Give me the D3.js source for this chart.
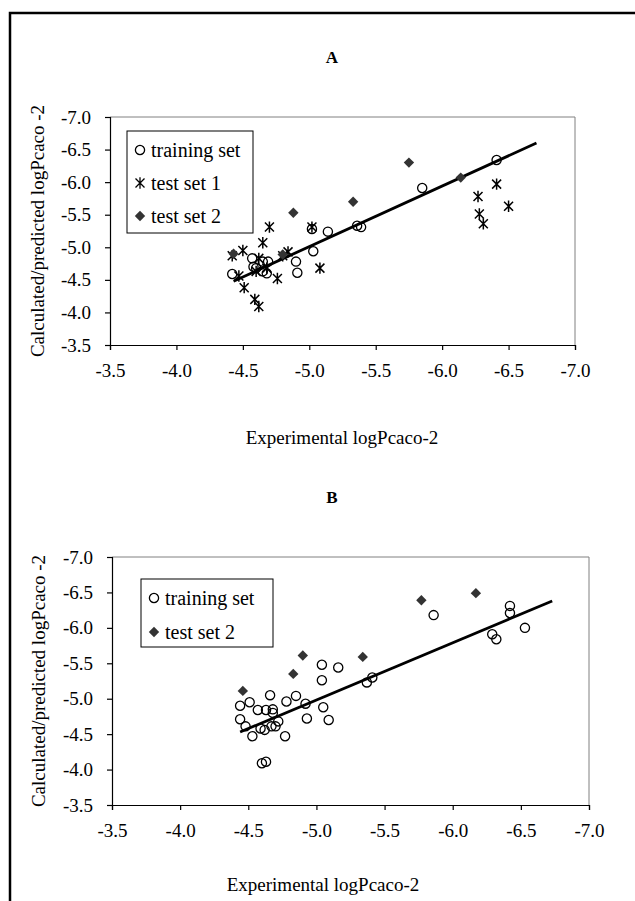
<!DOCTYPE html>
<html>
<head>
<meta charset="utf-8">
<script src="https://cdn.jsdelivr.net/npm/d3@7"></script>
<style>
  body { margin: 0; background: #fff; }
  svg { display: block; }
  text { font-family: "Liberation Serif", "Times New Roman", serif; fill: #000; }
</style>
</head>
<body>
<div id="chart"></div>
<script>
// tick values shared by both axes
var tickValues = [-3.5, -4.0, -4.5, -5.0, -5.5, -6.0, -6.5, -7.0];

// panel A : [experimental, calculated/predicted]
var trainingSetA = [
  [-4.42, -4.59], [-4.57, -4.83], [-4.65, -4.78], [-4.69, -4.78], [-4.58, -4.70],
  [-4.60, -4.68], [-4.65, -4.63], [-4.68, -4.60], [-4.90, -4.78], [-4.91, -4.61],
  [-5.03, -4.94], [-5.02, -5.28], [-5.14, -5.24], [-5.36, -5.33], [-5.39, -5.31],
  [-5.85, -5.91], [-6.41, -6.34]
];
var testSet1A = [
  [-4.42, -4.87], [-4.50, -4.95], [-4.47, -4.56], [-4.51, -4.38], [-4.59, -4.20],
  [-4.62, -4.09], [-4.62, -4.83], [-4.60, -4.63], [-4.68, -4.68], [-4.65, -5.07],
  [-4.70, -5.31], [-4.76, -4.52], [-4.80, -4.87], [-4.84, -4.93], [-5.02, -5.31],
  [-5.08, -4.68], [-6.27, -5.78], [-6.41, -5.97], [-6.50, -5.63], [-6.28, -5.51],
  [-6.31, -5.36]
];
var testSet2A = [
  [-4.43, -4.90], [-4.80, -4.89], [-4.88, -5.53], [-5.33, -5.70], [-5.75, -6.30],
  [-6.14, -6.07]
];
var fitLineA = [[-4.43, -4.48], [-6.71, -6.60]];

// panel B
var trainingSetB = [
  [-4.44, -4.90], [-4.51, -4.95], [-4.44, -4.71], [-4.48, -4.61], [-4.53, -4.47],
  [-4.57, -4.84], [-4.63, -4.84], [-4.68, -4.85], [-4.68, -4.80], [-4.66, -5.05],
  [-4.59, -4.58], [-4.62, -4.56], [-4.67, -4.61], [-4.70, -4.61], [-4.72, -4.68],
  [-4.77, -4.47], [-4.78, -4.96], [-4.85, -5.04], [-4.92, -4.93], [-4.93, -4.72],
  [-5.05, -4.88], [-5.09, -4.70], [-5.04, -5.48], [-5.16, -5.44], [-5.04, -5.26],
  [-5.37, -5.23], [-5.41, -5.30], [-5.86, -6.18], [-6.42, -6.31], [-6.42, -6.21],
  [-6.53, -6.00], [-6.29, -5.91], [-6.32, -5.84], [-4.60, -4.09], [-4.63, -4.11]
];
var testSet2B = [
  [-4.46, -5.11], [-4.83, -5.35], [-4.90, -5.61], [-5.34, -5.59], [-5.77, -6.39],
  [-6.17, -6.49]
];
var fitLineB = [[-4.44, -4.53], [-6.73, -6.38]];

var width = 635, height = 901;

var svg = d3.select("#chart").append("svg")
    .attr("width", width)
    .attr("height", height);

// outer frame (left and top edges only are visible)
svg.append("path")
    .attr("d", "M10," + height + "V13H" + width)
    .attr("fill", "none")
    .attr("stroke", "#000")
    .attr("stroke-width", 2.5);

function drawPanel(p) {

    var x = d3.scaleLinear().domain([-3.5, -7.0]).range([p.left, p.right]),
        y = d3.scaleLinear().domain([-3.5, -7.0]).range([p.bottom, p.top]);

    var g = svg.append("g");

    // grey top / right border of the plot area
    g.append("path")
        .attr("d", "M" + p.left + "," + p.top + "H" + p.right + "V" + p.bottom)
        .attr("fill", "none")
        .attr("stroke", "#808080")
        .attr("stroke-width", 1);

    var fmt = function(d) { return d3.format(".1f")(d).replace("−", "-"); };

    var xAxis = d3.axisBottom(x).tickValues(tickValues).tickFormat(fmt).tickSizeOuter(0).tickSize(5).tickPadding(14),
        yAxis = d3.axisLeft(y).tickValues(tickValues).tickFormat(fmt).tickSizeOuter(0).tickSize(5).tickPadding(14);

    g.append("g")
        .attr("transform", "translate(0," + p.bottom + ")")
        .call(xAxis);

    g.append("g")
        .attr("transform", "translate(" + p.left + ",0)")
        .call(yAxis);

    g.selectAll(".domain, .tick line").attr("stroke", "#000").attr("stroke-width", 1.2);
    g.selectAll(".tick text")
        .style("font-family", "'Liberation Serif', serif")
        .style("font-size", "19px");

    // titles
    g.append("text")
        .attr("x", p.titleX).attr("y", p.titleY)
        .attr("text-anchor", "middle")
        .style("font-size", "17px").style("font-weight", "bold")
        .text(p.title);

    g.append("text")
        .attr("x", p.xLabelX).attr("y", p.xLabelY)
        .attr("text-anchor", "middle")
        .style("font-size", "19px")
        .text("Experimental logPcaco-2");

    g.append("text")
        .attr("transform", "translate(" + p.yLabelX + "," + ((p.top + p.bottom) / 2) + ") rotate(-90)")
        .attr("text-anchor", "middle")
        .style("font-size", "19px")
        .text("Calculated/predicted logPcaco -2");

    // regression line
    g.append("line")
        .attr("x1", x(p.fit[0][0])).attr("y1", y(p.fit[0][1]))
        .attr("x2", x(p.fit[1][0])).attr("y2", y(p.fit[1][1]))
        .attr("stroke", "#000")
        .attr("stroke-width", 2.8);

    // markers
    p.series.forEach(function(s) {
        g.append("g").selectAll("path")
            .data(s.data)
            .enter().append("path")
            .attr("transform", function(d) { return "translate(" + x(d[0]) + "," + y(d[1]) + ")"; })
            .attr("d", marker(s.shape))
            .attr("fill", s.shape == "diamond" ? "#333" : "none")
            .attr("stroke", s.shape == "diamond" ? "none" : "#000")
            .attr("stroke-width", s.shape == "star" ? 1.5 : 1.3);
    });

    // legend
    var lg = g.append("g");
    lg.append("rect")
        .attr("x", p.legend.x).attr("y", p.legend.y)
        .attr("width", p.legend.w).attr("height", p.legend.h)
        .attr("fill", "#fff")
        .attr("stroke", "#000")
        .attr("stroke-width", 1);

    p.series.forEach(function(s, i) {
        var cy = p.legend.y + p.legend.first + i * p.legend.step;
        lg.append("path")
            .attr("transform", "translate(" + (p.legend.x + 13) + "," + cy + ")")
            .attr("d", marker(s.shape))
            .attr("fill", s.shape == "diamond" ? "#333" : "none")
            .attr("stroke", s.shape == "diamond" ? "none" : "#000")
            .attr("stroke-width", 1.3);
        lg.append("text")
            .attr("x", p.legend.x + 24).attr("y", cy)
            .attr("dy", "0.33em")
            .style("font-size", "20px")
            .text(s.name);
    });
}

function marker(shape) {
    if (shape == "circle") {
        var r = 4.6;
        return "M" + r + ",0A" + r + "," + r + " 0 1,1 " + (-r) + ",0A" + r + "," + r + " 0 1,1 " + r + ",0Z";
    }
    if (shape == "diamond") {
        var h = 5.2;
        return "M0," + (-h) + "L" + h + ",0L0," + h + "L" + (-h) + ",0Z";
    }
    // star: an X with a vertical bar
    var a = 4.5;
    return "M" + (-a) + "," + (-a) + "L" + a + "," + a +
           "M" + (-a) + "," + a + "L" + a + "," + (-a) +
           "M0," + (-a - 1.2) + "V" + (a + 1.2);
}

drawPanel({
    title: "A", titleX: 332, titleY: 63,
    left: 110, right: 575, top: 117, bottom: 345,
    xLabelX: 342, xLabelY: 444, yLabelX: 44,
    fit: fitLineA,
    series: [
        {name: "training set", shape: "circle", data: trainingSetA},
        {name: "test set 1", shape: "star", data: testSet1A},
        {name: "test set 2", shape: "diamond", data: testSet2A}
    ],
    legend: {x: 127, y: 131, w: 126, h: 102, first: 19, step: 33}
});

drawPanel({
    title: "B", titleX: 332, titleY: 503,
    left: 112, right: 589, top: 557, bottom: 805,
    xLabelX: 323, xLabelY: 891, yLabelX: 45,
    fit: fitLineB,
    series: [
        {name: "training set", shape: "circle", data: trainingSetB},
        {name: "test set 2", shape: "diamond", data: testSet2B}
    ],
    legend: {x: 141, y: 579, w: 132, h: 68, first: 19, step: 34}
});
</script>
</body>
</html>
